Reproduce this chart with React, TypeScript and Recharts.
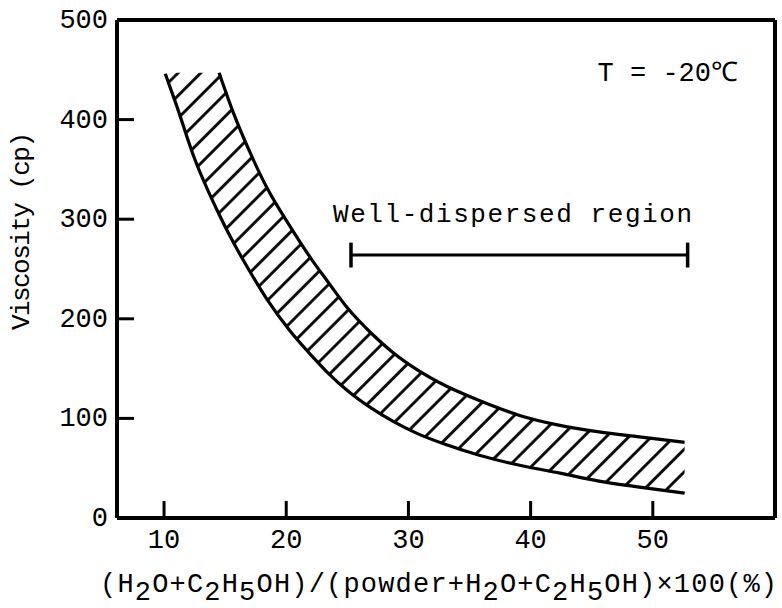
import React from "react";
import {
  ComposedChart,
  Area,
  Line,
  XAxis,
  YAxis,
  ReferenceLine,
  Customized,
} from "recharts";

// ---- data ----
const X_VALUES = [10.1, 11, 12.4, 14.5, 15.7, 17, 18.4, 20.3, 22, 23.3, 25, 27, 28.75, 30.7, 33, 35.8, 39.1, 42.4, 45.6, 48.9, 52.6];
const LOWER = [446, 415, 364, 305, 276, 248, 220, 188, 164, 147, 128, 110, 97, 85, 74, 63, 53, 45, 37, 31, 25];
const UPPER: (number | null)[] = [null, null, null, 447, 406, 368, 332, 293, 261, 239, 211, 185, 166, 149, 133, 118, 103, 93, 86.5, 81.5, 76];
const OPEN_TOP = 447;

const X_TICKS = [10, 20, 30, 40, 50];
const Y_TICKS = [0, 100, 200, 300, 400, 500];
const X_DOMAIN = [6.15, 60];
const Y_DOMAIN = [0, 500];

const REGION_X = [25.3, 52.85];
const REGION_Y = 264;
const REGION_CAP = 12.5;

const data = X_VALUES.map((x, i) => ({
  x,
  lower: LOWER[i],
  upper: UPPER[i],
  band: [LOWER[i], UPPER[i] == null ? OPEN_TOP : UPPER[i]],
}));

const FONT = "'Liberation Mono', 'DejaVu Sans Mono', monospace";

const XTick = (props: any) => {
  const { x, y, payload } = props;
  return (
    <g>
      <line x1={x} y1={y} x2={x} y2={y - 17} stroke="#000" strokeWidth={3} />
      <text x={x} y={y + 23} textAnchor="middle" dominantBaseline="central" fontFamily={FONT} fontSize={27} fill="#000">
        {payload.value}
      </text>
    </g>
  );
};

const YTick = (props: any) => {
  const { x, y, payload } = props;
  const showLine = payload.value !== 0 && payload.value !== 500;
  return (
    <g>
      {showLine && <line x1={x} y1={y} x2={x + 17} y2={y} stroke="#000" strokeWidth={3} />}
      <text x={x - 9} y={y + 1} textAnchor="end" dominantBaseline="central" fontFamily={FONT} fontSize={27} fill="#000">
        {payload.value}
      </text>
    </g>
  );
};

const Annotations = () => (
  <g fontFamily={FONT} fill="#000">
    <text x={22} y={231} transform="rotate(-90 22 231)" textAnchor="middle" dominantBaseline="central" fontSize={26} textLength={198} lengthAdjust="spacing">
      Viscosity (cp)
    </text>
    <text x={333} y={222} fontSize={26} textLength={359} lengthAdjust="spacing">
      Well-dispersed region
    </text>
    <text x={738} y={81} fontSize={27} textAnchor="end">
      T = -20℃
    </text>
    <text x={100} y={592} fontSize={27} textLength={677} lengthAdjust="spacing">
      (H<tspan dy={8}>2</tspan><tspan dy={-8}>O+C</tspan><tspan dy={8}>2</tspan><tspan dy={-8}>H</tspan><tspan dy={8}>5</tspan><tspan dy={-8}>OH)/(powder+H</tspan><tspan dy={8}>2</tspan><tspan dy={-8}>O+C</tspan><tspan dy={8}>2</tspan><tspan dy={-8}>H</tspan><tspan dy={8}>5</tspan><tspan dy={-8}>OH)×100(%)</tspan>
    </text>
  </g>
);

export default function App() {
  return (
    <div style={{ position: "absolute", left: 0, top: 0, width: 782, height: 608, background: "#fff" }}>
      <ComposedChart
        width={782}
        height={608}
        data={data}
        margin={{ top: 20, right: 7, left: 57, bottom: 60 }}
      >
        <defs>
          <pattern id="hatch" patternUnits="userSpaceOnUse" width={16} height={16} patternTransform="rotate(45)">
            <line x1={1.5} y1={0} x2={1.5} y2={16} stroke="#000" strokeWidth={2.8} />
          </pattern>
        </defs>
        <XAxis
          dataKey="x"
          type="number"
          domain={X_DOMAIN}
          ticks={X_TICKS}
          tick={<XTick />}
          tickSize={0}
          tickMargin={0}
          height={30}
          axisLine={{ stroke: "#000", strokeWidth: 4 }}
          tickLine={false}
          allowDataOverflow
        />
        <YAxis
          type="number"
          domain={Y_DOMAIN}
          ticks={Y_TICKS}
          tick={<YTick />}
          tickSize={0}
          tickMargin={0}
          width={60}
          axisLine={{ stroke: "#000", strokeWidth: 4 }}
          tickLine={false}
          allowDataOverflow
        />
        <ReferenceLine y={500} stroke="#000" strokeWidth={4} />
        <ReferenceLine x={60} stroke="#000" strokeWidth={4} />
        <Area
          dataKey="band"
          type="monotone"
          fill="url(#hatch)"
          fillOpacity={1}
          stroke="none"
          isAnimationActive={false}
        />
        <Line dataKey="lower" type="monotone" stroke="#000" strokeWidth={3.2} dot={false} isAnimationActive={false} />
        <Line dataKey="upper" type="monotone" stroke="#000" strokeWidth={3.2} dot={false} connectNulls={false} isAnimationActive={false} />
        <ReferenceLine
          segment={[{ x: REGION_X[0], y: REGION_Y }, { x: REGION_X[1], y: REGION_Y }]}
          stroke="#000"
          strokeWidth={3}
        />
        <ReferenceLine
          segment={[{ x: REGION_X[0], y: REGION_Y - REGION_CAP }, { x: REGION_X[0], y: REGION_Y + REGION_CAP }]}
          stroke="#000"
          strokeWidth={3.5}
        />
        <ReferenceLine
          segment={[{ x: REGION_X[1], y: REGION_Y - REGION_CAP }, { x: REGION_X[1], y: REGION_Y + REGION_CAP }]}
          stroke="#000"
          strokeWidth={3.5}
        />
        <Customized component={Annotations} />
      </ComposedChart>
    </div>
  );
}
